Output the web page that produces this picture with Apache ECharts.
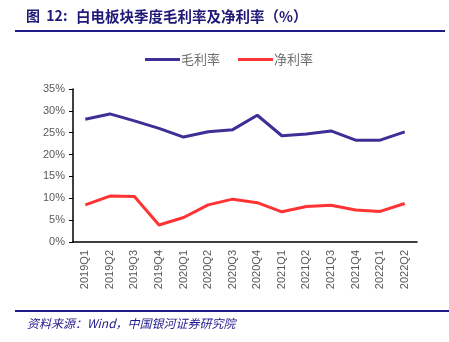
<!DOCTYPE html>
<html><head><meta charset="utf-8">
<script src="https://cdn.jsdelivr.net/npm/echarts@6/dist/echarts.min.js"></script>
<style>html,body{margin:0;padding:0;background:#fff;}#c{width:449px;height:342px;}</style>
</head><body><div id="c"></div>
<script>
var categories = ['2019Q1','2019Q2','2019Q3','2019Q4','2020Q1','2020Q2','2020Q3','2020Q4','2021Q1','2021Q2','2021Q3','2021Q4','2022Q1','2022Q2'];
var grossMargin = [28.1,29.3,27.7,26.0,24.0,25.2,25.7,29.0,24.3,24.7,25.4,23.3,23.3,25.2];
var netMargin = [8.5,10.5,10.4,3.9,5.6,8.5,9.8,9.0,6.9,8.1,8.4,7.3,7.0,8.8];
var yTicks = [0,5,10,15,20,25,30,35];
var titlePrefix = '图  12:';
var titleText = '白电板块季度毛利率及净利率（%）';
var sourceText = '资料来源：Wind，中国银河证券研究院';

var chart = echarts.init(document.getElementById('c'), null, {renderer:'canvas'});
chart.setOption({
  animation:false,
  backgroundColor:'#fff',
  graphic:[
    {type:'text', left:26, top:9, style:{text:titlePrefix, font:'bold 14px "Noto Sans CJK SC"', fill:'#1f1a78'}},
    {type:'text', left:76, top:9, style:{text:titleText, font:'bold 14.5px "Noto Sans CJK SC"', fill:'#1f1a78'}},
    {type:'line', shape:{x1:15,y1:31,x2:445,y2:31}, style:{stroke:'#1f1a8a', lineWidth:2}},
    {type:'line', shape:{x1:15,y1:311,x2:449,y2:311}, style:{stroke:'#1f1a8a', lineWidth:2}},
    {type:'text', left:27, top:317, style:{text:sourceText, font:'italic 12px "Noto Sans CJK SC"', fill:'#1f1a8a'}}
  ],
  legend:{top:48, left:140, itemWidth:35, itemHeight:3, itemGap:18,
    icon:'rect',
    textStyle:{fontSize:13, color:'#6e6e6e', fontFamily:'Noto Sans CJK SC', padding:[0,0,0,-4]},
    data:['毛利率','净利率']},
  grid:{left:73, right:32, top:89, bottom:100},
  xAxis:{type:'category', data:categories, boundaryGap:true,
    axisLine:{lineStyle:{color:'#000', width:1.5}},
    axisTick:{show:false},
    axisLabel:{rotate:90, color:'#595959', fontSize:11, margin:8, fontFamily:'Liberation Sans'}},
  yAxis:{type:'value', min:0, max:35, interval:5,
    axisLine:{show:true, lineStyle:{color:'#000', width:1.5}},
    axisTick:{show:true, inside:false, length:4, lineStyle:{color:'#000'}},
    splitLine:{show:false},
    axisLabel:{color:'#595959', fontSize:11, margin:8, fontFamily:'Liberation Sans', formatter:function(v){return yTicks.indexOf(v)>=0? v+'%':'';}}},
  series:[
    {name:'毛利率', type:'line', data:grossMargin, symbol:'none', lineStyle:{color:'#3c2f96', width:3}, itemStyle:{color:'#3c2f96'}},
    {name:'净利率', type:'line', data:netMargin, symbol:'none', lineStyle:{color:'#ff3333', width:3}, itemStyle:{color:'#ff3333'}}
  ]
});
</script></body></html>
